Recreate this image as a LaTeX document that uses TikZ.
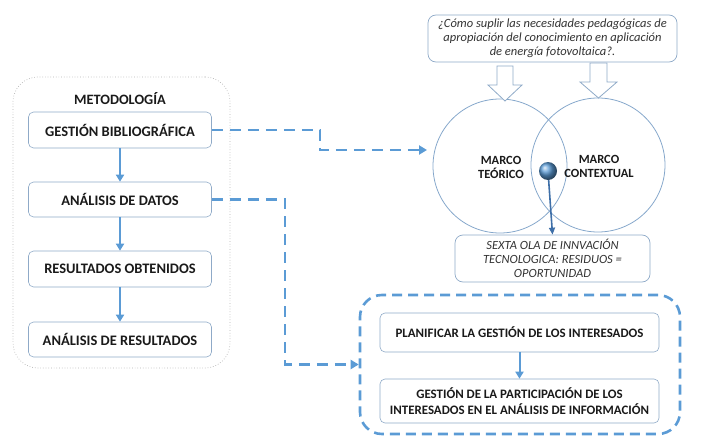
\documentclass[tikz,border=0pt]{standalone}
\usepackage{fontspec}
\setmainfont{Carlito}
\usetikzlibrary{arrows.meta,shapes.geometric}
\definecolor{accent}{HTML}{5B9BD5}
\definecolor{boxline}{HTML}{8FAAC8}
\definecolor{deepblue}{HTML}{3E6FA8}
\definecolor{txt}{HTML}{1A1A1A}
\definecolor{itxt}{HTML}{333333}
\tikzset{
  stepbox/.style={draw=boxline, line width=0.6pt, rounded corners=5pt, fill=white,
    font=\bfseries\fontsize{14.5}{16}\selectfont, text=txt, align=center,
    minimum width=183pt, inner sep=2pt},
  wideb/.style={stepbox, minimum width=279pt, font=\bfseries\fontsize{12.9}{15.5}\selectfont},
  qbox/.style={draw=boxline, line width=0.7pt, rounded corners=8pt, fill=white,
    font=\itshape\fontsize{12.5}{14}\selectfont, text=itxt, align=center, inner sep=2pt},
  solidarrow/.style={draw=accent, line width=2pt, -{Triangle[length=7pt,width=8pt]}},
  dashconn/.style={draw=accent, line width=2.6pt, dash pattern=on 11pt off 7pt,
    -{Triangle[length=8pt,width=9pt]}},
  ring/.style={circle, draw=boxline!80!accent, line width=0.8pt, minimum size=134pt, inner sep=0pt},
  hollow/.style={draw=boxline, line width=0.8pt, fill=white, line join=miter},
  lbl/.style={font=\bfseries\fontsize{12.5}{14}\selectfont, text=txt, align=center}
}
\begin{document}
\begin{tikzpicture}[x=1pt,y=-1pt]
\useasboundingbox (0,0) rectangle (720,436);
% methodology frame
\node[draw=gray!60, dotted, line width=0.7pt, rounded corners=25pt,
      minimum width=217pt, minimum height=291pt] (meth) at (121.5,222.5) {};
\node[lbl, font=\bfseries\fontsize{14.3}{16}\selectfont] (methlbl) at (120,99) {METODOLOGÍA};
\node[stepbox, minimum height=36pt] (gb) at (120,130) {GESTIÓN BIBLIOGRÁFICA};
\node[stepbox, minimum height=35pt] (ad) at (120,199.5) {ANÁLISIS DE DATOS};
\node[stepbox, minimum height=36pt] (ro) at (120,269) {RESULTADOS OBTENIDOS};
\node[stepbox, minimum height=35pt] (ar) at (120,339.5) {ANÁLISIS DE RESULTADOS};
\draw[solidarrow] (gb) -- (ad);
\draw[solidarrow] (ad) -- (ro);
\draw[solidarrow] (ro) -- (ar);

% question
\node[qbox, minimum width=249pt, minimum height=47pt] (q) at (552.5,38.5)
  {¿Cómo suplir las necesidades pedagógicas de\\apropiación del conocimiento en aplicación\\de energía fotovoltaica?.};

% circles
\node[ring] (teo) at (500,166) {};
\node[ring] (ctx) at (598,165) {};
\node[lbl] (teolbl) at (501,167) {MARCO\\TEÓRICO};
\node[lbl] (ctxlbl) at (599,166) {MARCO\\CONTEXTUAL};

% hollow arrows
\draw[hollow] (497,66) -- (513,66) -- (513,85) -- (522,85) -- (505,101) -- (488,85) -- (497,85) -- cycle;
\draw[hollow] (590,63) -- (607,63) -- (607,82) -- (617,82) -- (598.5,98) -- (580,82) -- (590,82) -- cycle;

% sexta ola
\node[qbox, minimum width=195pt, minimum height=47pt, font=\itshape\fontsize{12.5}{14}\selectfont] (sexta) at (552.5,258.5)
  {SEXTA OLA DE INNVACIÓN\\TECNOLOGICA: RESIDUOS =\\OPORTUNIDAD};
\coordinate (ballc) at (548,171);
\draw[deepblue, line width=1.6pt, -{Triangle[length=7pt,width=6pt]}] (ballc) -- (sexta.north);
\shade[ball color=accent] (ballc) circle (9pt);
\node[circle, minimum size=18pt, inner sep=0pt] (ball) at (ballc) {};

% stakeholder group
\node[draw=accent, line width=2.6pt, dash pattern=on 10pt off 6pt, rounded corners=22pt,
      minimum width=320pt, minimum height=139pt] (grp) at (520,364.5) {};
\node[wideb, minimum height=39pt] (plan) at (519.5,332.5) {PLANIFICAR LA GESTIÓN DE LOS INTERESADOS};
\node[wideb, minimum height=44pt] (part) at (519.5,401)
  {GESTIÓN DE LA PARTICIPACIÓN DE LOS\\INTERESADOS EN EL ANÁLISIS DE INFORMACIÓN};
\draw[solidarrow] (plan) -- (part);

% dashed connectors
\coordinate (t1) at (427,150);
\draw[dashconn] (gb.east) -- (320,130) -- (320,150) -- (t1);
\draw[dashconn] (ad.east) -- (285,199.5) |- (grp.west);
\end{tikzpicture}
\end{document}
